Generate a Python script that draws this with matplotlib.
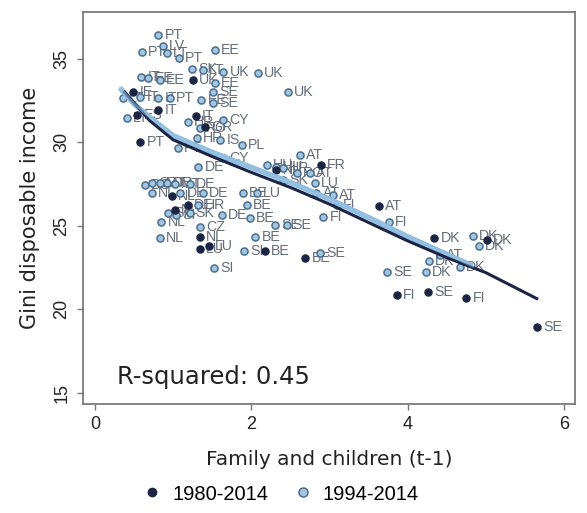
import matplotlib
matplotlib.use("Agg")
import matplotlib.pyplot as plt
from matplotlib.lines import Line2D

# ---- data: 1980-2014 (dark markers) ----
dark_x = [1.25, 0.49, 0.81, 0.54, 1.29, 1.41, 0.58, 2.89, 2.32, 3.63, 4.34, 5.01,
          3.86, 4.26, 4.75, 5.66, 2.69, 2.17, 1.46, 1.34, 1.34, 0.98, 1.19, 1.02]
dark_y = [33.74, 33.02, 31.95, 31.65, 31.59, 30.93, 30.03, 28.65, 28.35, 26.2, 24.3, 24.16,
          20.87, 21.03, 20.67, 18.97, 23.07, 23.52, 23.8, 23.62, 24.32, 26.8, 26.26, 25.96]
dark_lab = ["UK", "IE", "IT", "ES", "IT", "GR", "PT", "FR", "NL", "AT", "DK", "DK",
            "FI", "SE", "FI", "SE", "BE", "BE", "LU", "LU", "NL", "NL", "DE", "NL"]

# ---- data: 1994-2014 (light markers) ----
light_x = [0.81, 0.87, 0.60, 0.92, 1.07, 1.53, 1.24, 1.38, 1.64, 2.08, 1.53, 2.47,
           0.59, 0.68, 0.83, 1.51, 1.51, 0.36, 0.58, 0.81, 0.96, 1.36, 0.41, 1.19,
           1.64, 1.34, 1.30, 1.60, 1.88, 1.06, 1.64, 1.32,
           0.64, 0.73, 0.83, 0.92, 1.02, 1.21, 0.73, 1.09, 1.38, 1.89, 2.07, 1.32,
           1.94, 0.93, 1.04, 1.21, 1.62, 1.98, 0.85, 1.34, 2.45, 2.30, 0.83, 2.05,
           1.91, 2.88, 1.52,
           2.62, 2.20, 2.32, 2.40, 2.58, 2.75, 2.81, 2.41, 2.83, 3.04, 3.09, 2.92,
           3.76, 4.83, 4.91, 4.27, 4.41, 4.67, 3.73, 4.23]
light_y = [36.44, 35.78, 35.42, 35.36, 35.06, 35.54, 34.40, 34.34, 34.22, 34.16, 33.56, 33.02,
           33.92, 33.86, 33.74, 33.02, 32.35, 32.65, 32.71, 32.65, 32.65, 32.53, 31.47, 31.23,
           31.35, 30.87, 30.27, 30.15, 29.85, 29.67, 29.07, 28.53,
           27.46, 27.56, 27.56, 27.56, 27.51, 27.51, 26.96, 26.98, 26.98, 26.98, 26.98, 26.26,
           26.26, 25.78, 25.66, 25.76, 25.66, 25.48, 25.26, 24.96, 25.06, 25.06, 24.26, 24.32,
           23.52, 23.40, 22.47,
           29.25, 28.65, 28.55, 28.47, 28.16, 28.16, 27.56, 27.75, 26.96, 26.86, 26.26, 25.56,
           25.26, 24.40, 23.80, 22.92, 23.26, 22.56, 22.26, 22.26]
light_lab = ["PT", "LV", "PT", "LT", "PT", "EE", "SK", "LT", "UK", "UK", "EE", "UK",
             "IT", "EE", "EE", "SE", "SE", "LT", "IT", "IT", "PT", "EE", "LT", "HR",
             "CY", "RO", "HR", "IS", "PL", "PT", "CY", "DE",
             "BG", "CZ", "MT", "DE", "MT", "DE", "NL", "DE", "DE", "BE", "LU", "HR",
             "BE", "SK", "SI", "SK", "DE", "BE", "NL", "CZ", "SE", "SE", "NL", "BE",
             "SI", "SE", "SI",
             "AT", "HU", "HU", "HR", "RO", "AT", "LU", "SK", "AT", "AT", "FI", "FI",
             "FI", "DK", "DK", "DK", "AT", "DK", "SE", "DK"]

# ---- lowess fit curves ----
fit_dark_x = [0.38, 0.7, 1.0, 1.5, 2.0, 2.5, 3.0, 3.5, 4.0, 4.5, 5.0, 5.65]
fit_dark_y = [33.0, 31.3, 30.15, 29.15, 28.2, 27.3, 26.3, 25.2, 24.1, 23.1, 22.2, 20.65]
fit_light_x = [0.32, 0.5, 0.7, 1.0, 1.5, 2.0, 2.5, 3.0, 3.5, 4.0, 4.5, 4.83]
fit_light_y = [33.26, 32.3, 31.5, 30.4, 29.4, 28.5, 27.6, 26.6, 25.5, 24.35, 23.3, 22.6]

x_ticks = [0, 2, 4, 6]
y_ticks = [15, 20, 25, 30, 35]
r2_text = "R-squared: 0.45"
legend_labels = ["1980-2014", "1994-2014"]

DARK = "#1b2443"
LIGHT_FACE = "#a3c6e0"
LIGHT_EDGE = "#4c6e8e"
LAB = "#666c79"

fig = plt.figure(figsize=(5.87, 5.13), dpi=100)
ax = fig.add_axes([0.1414, 0.2125, 0.8382, 0.7641])

ax.plot(fit_light_x, fit_light_y, color="#8cbbe0", lw=3.8, solid_capstyle="butt", zorder=3)
ax.plot(fit_dark_x, fit_dark_y, color=DARK, lw=2.2, zorder=4)
ax.plot(fit_light_x, fit_light_y, color="#9cc6e6", lw=2.0, alpha=0.55, zorder=5)

ax.scatter(light_x, light_y, s=26, facecolor=LIGHT_FACE, edgecolor=LIGHT_EDGE,
           linewidths=1.1, zorder=2)
ax.scatter(dark_x, dark_y, s=26, color=DARK, zorder=2.5)

lab_font = dict(family=["Liberation Sans", "DejaVu Sans"], fontsize=10.2, color=LAB)
for x, y, t in zip(light_x, light_y, light_lab):
    ax.annotate(t, (x, y), xytext=(4.5, 0), textcoords="offset points",
                va="center", ha="left", zorder=1.5, **lab_font)
for x, y, t in zip(dark_x, dark_y, dark_lab):
    ax.annotate(t, (x, y), xytext=(4.5, 0), textcoords="offset points",
                va="center", ha="left", zorder=1.5, **lab_font)

ax.set_xlim(-0.153, 6.14)
ax.set_ylim(14.34, 37.8)
ax.set_xticks(x_ticks)
ax.set_yticks(y_ticks)
ax.set_xticklabels([str(v) for v in x_ticks], family="Liberation Sans", fontsize=13, color="#222222")
ax.set_yticklabels([str(v) for v in y_ticks], family="Liberation Sans", fontsize=13,
                   rotation=90, va="center", color="#222222")
ax.tick_params(axis="both", direction="out", length=4, width=1, color="#777777", pad=5)
for s in ax.spines.values():
    s.set_color("#6f6f6f")
    s.set_linewidth(1.2)

ax.set_xlabel("Family and children (t-1)", family="DejaVu Sans", fontsize=14.5,
              color="#222222", labelpad=12)
ax.set_ylabel("Gini disposable income", family="DejaVu Sans", fontsize=15,
              color="#222222", labelpad=10)

ax.text(0.069, 0.068, r2_text, transform=ax.transAxes, family="DejaVu Sans",
        fontsize=17.5, color="#222222", va="center", ha="left")

handles = [Line2D([], [], ls="", marker="o", markersize=6, color=DARK),
           Line2D([], [], ls="", marker="o", markersize=6.5, markerfacecolor=LIGHT_FACE,
                  markeredgecolor=LIGHT_EDGE, markeredgewidth=1.1)]
fig.legend(handles, legend_labels, loc="center", bbox_to_anchor=(0.478, 0.037), ncol=2,
           frameon=False, prop=dict(family="Liberation Sans", size=14.5),
           handletextpad=0.5, columnspacing=1.2, handlelength=1.0)

fig.savefig("out.png", dpi=100, facecolor="white")
